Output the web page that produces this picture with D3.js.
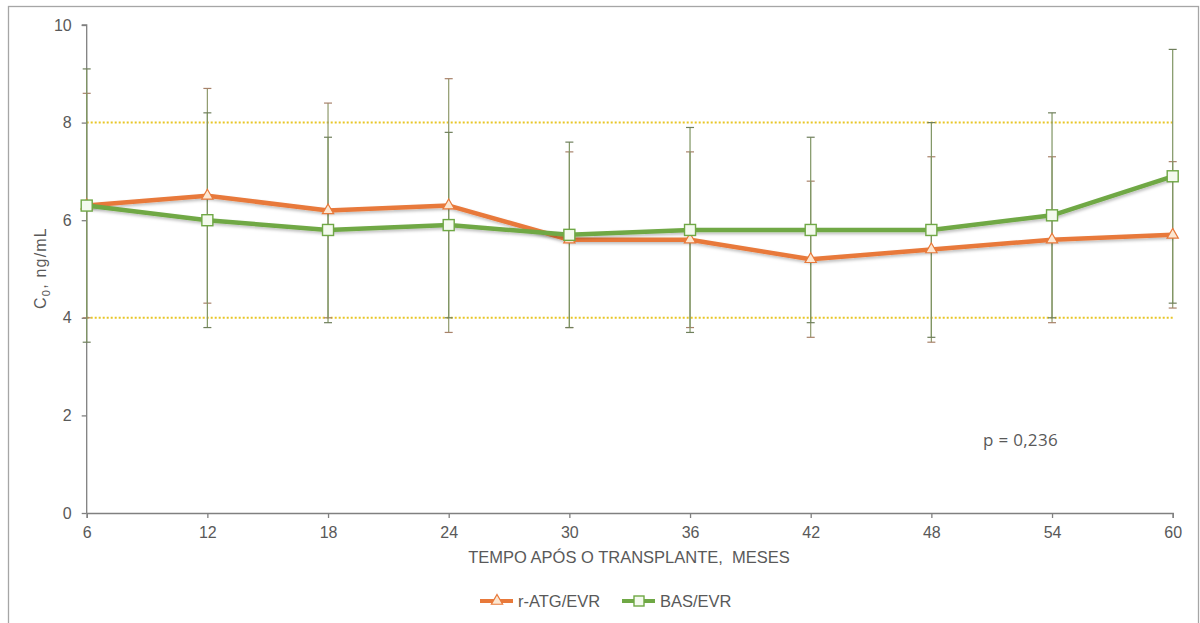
<!DOCTYPE html>
<html>
<head>
<meta charset="utf-8">
<script src="https://cdn.jsdelivr.net/npm/d3@7"></script>
<style>
  html, body { margin: 0; padding: 0; background: #fff; }
  svg { display: block; font-family: "Liberation Sans", Arial, sans-serif; }
</style>
</head>
<body>
<svg id="chart" width="1200" height="623"></svg>
<script>
// ---- data ----
const months = [6, 12, 18, 24, 30, 36, 42, 48, 54, 60];
const atgMean  = [6.3, 6.5, 6.2, 6.3, 5.6, 5.6, 5.2, 5.4, 5.6, 5.7];
const atgUpper = [8.6, 8.7, 8.4, 8.9, 7.4, 7.4, 6.8, 7.3, 7.3, 7.2];
const atgLower = [4.0, 4.3, 4.0, 3.7, 3.8, 3.8, 3.6, 3.5, 3.9, 4.2];
const basMean  = [6.3, 6.0, 5.8, 5.9, 5.7, 5.8, 5.8, 5.8, 6.1, 6.9];
const basUpper = [9.1, 8.2, 7.7, 7.8, 7.6, 7.9, 7.7, 8.0, 8.2, 9.5];
const basLower = [3.5, 3.8, 3.9, 4.0, 3.8, 3.7, 3.9, 3.6, 4.0, 4.3];
const yTicks = [0, 2, 4, 6, 8, 10];
const refLines = [4, 8];
const seriesNames = ["r-ATG/EVR", "BAS/EVR"];
const xTitle = "TEMPO APÓS O TRANSPLANTE,  MESES";
const pText = "p = 0,236";

// ---- layout ----
const svg = d3.select("#chart");
const x = d3.scaleLinear().domain([6, 60]).range([86.7, 1172.7]);
const y = d3.scaleLinear().domain([0, 10]).range([513, 25]);

const orange = "#E8793A", green = "#6FA845";
const axisCol = "#808080", textCol = "#595959";

// outer border
svg.append("rect").attr("x", 8.5).attr("y", 6.5).attr("width", 1190).attr("height", 640)
  .attr("fill", "none").attr("stroke", "#a6a6a6").attr("stroke-width", 1.3);

// shadow filter
const defs = svg.append("defs");
const f = defs.append("filter").attr("id", "sh").attr("x", "-5%").attr("y", "-50%").attr("width", "110%").attr("height", "200%");
f.append("feDropShadow").attr("dx", 1).attr("dy", 2).attr("stdDeviation", 1.5).attr("flood-color", "#000").attr("flood-opacity", 0.25);

// reference dotted lines
svg.selectAll(".ref").data(refLines).enter().append("line")
  .attr("x1", x(6)).attr("x2", x(60))
  .attr("y1", d => y(d)).attr("y2", d => y(d))
  .attr("stroke", "#E8C626").attr("stroke-width", 2).attr("stroke-dasharray", "2,2");

// axes
const yAxis = d3.axisLeft(y).tickValues(yTicks).tickSize(5).tickPadding(10).tickFormat(d3.format("d"));
const gy = svg.append("g").attr("transform", `translate(${x(6)},0)`).call(yAxis);
const xAxis = d3.axisBottom(x).tickValues(months).tickSize(5).tickPadding(9).tickFormat(d3.format("d"));
const gx = svg.append("g").attr("transform", `translate(0,${y(0)})`).call(xAxis);
[gx, gy].forEach(g => {
  g.select(".domain").attr("stroke", axisCol).attr("stroke-width", 1.3);
  g.selectAll(".tick line").attr("stroke", axisCol).attr("stroke-width", 1.3);
  g.selectAll(".tick text").attr("fill", textCol).attr("font-size", 16)
    .attr("font-family", "'Liberation Sans', Arial, sans-serif");
});
gy.select(".domain").attr("d", `M-5,${y(10)}H0V${y(0)}`);

// error bars
function errorBars(lower, upper, lineCol, capCol) {
  const g = svg.append("g");
  months.forEach((m, i) => {
    g.append("line").attr("x1", x(m)).attr("x2", x(m))
      .attr("y1", y(lower[i])).attr("y2", y(upper[i]))
      .attr("stroke", lineCol).attr("stroke-width", 1.2);
    [lower[i], upper[i]].forEach(v => {
      g.append("line").attr("x1", x(m) - 4).attr("x2", x(m) + 4)
        .attr("y1", y(v)).attr("y2", y(v))
        .attr("stroke", capCol).attr("stroke-width", 1.2);
    });
  });
}
errorBars(atgLower, atgUpper, "#8f9a6c", "#a8826a");
errorBars(basLower, basUpper, "#7f9563", "#6f7f5c");

// lines
const line = d3.line().x((d, i) => x(months[i])).y(d => y(d));
svg.append("path").datum(atgMean).attr("d", line).attr("fill", "none")
  .attr("stroke", orange).attr("stroke-width", 4.5).attr("stroke-linejoin", "round").attr("filter", "url(#sh)");
svg.append("path").datum(basMean).attr("d", line).attr("fill", "none")
  .attr("stroke", green).attr("stroke-width", 4.5).attr("stroke-linejoin", "round").attr("filter", "url(#sh)");

// markers
const tri = d3.symbol().type(d3.symbolTriangle).size(55);
svg.selectAll(".tri").data(atgMean).enter().append("path")
  .attr("d", tri).attr("transform", (d, i) => `translate(${x(months[i])},${y(d)})`)
  .attr("fill", "#FCE7D2").attr("stroke", orange).attr("stroke-width", 1.2);
svg.selectAll(".sq").data(basMean).enter().append("rect")
  .attr("x", (d, i) => x(months[i]) - 5.5).attr("y", d => y(d) - 5.5)
  .attr("width", 11).attr("height", 11)
  .attr("fill", "#F4FAEE").attr("stroke", green).attr("stroke-width", 1.4);

// y axis title
const yt = svg.append("text").attr("transform", `translate(46,268) rotate(-90)`)
  .attr("text-anchor", "middle").attr("fill", textCol).attr("font-size", 16)
  .attr("letter-spacing", 1.2);
yt.append("tspan").text("C");
yt.append("tspan").text("0").attr("font-size", 11).attr("dy", 4);
yt.append("tspan").text(", ng/mL").attr("dy", -4);

// x axis title
svg.append("text").attr("x", 629).attr("y", 563).attr("text-anchor", "middle")
  .style("white-space", "pre")
  .attr("fill", textCol).attr("font-size", 16.5).text(xTitle);

// p value
svg.append("text").attr("x", 983).attr("y", 446).attr("fill", textCol)
  .attr("font-size", 17).attr("letter-spacing", 0.3)
  .attr("font-family", "'Open Sans', 'Noto Sans', sans-serif").text(pText);

// legend
const legend = svg.append("g");
const legItems = [
  { name: seriesNames[0], col: orange, x0: 480, marker: "tri" },
  { name: seriesNames[1], col: green, x0: 622, marker: "sq" }
];
legItems.forEach(it => {
  const ly = 601;
  legend.append("line").attr("x1", it.x0).attr("x2", it.x0 + 33).attr("y1", ly).attr("y2", ly)
    .attr("stroke", it.col).attr("stroke-width", 4);
  if (it.marker === "tri") {
    legend.append("path").attr("d", tri).attr("transform", `translate(${it.x0 + 17},${ly})`)
      .attr("fill", "#FCE7D2").attr("stroke", it.col).attr("stroke-width", 1.2);
  } else {
    legend.append("rect").attr("x", it.x0 + 12).attr("y", ly - 5).attr("width", 10).attr("height", 10)
      .attr("fill", "#F4FAEE").attr("stroke", it.col).attr("stroke-width", 1.4);
  }
  legend.append("text").attr("x", it.x0 + 38).attr("y", ly + 6).attr("fill", textCol)
    .attr("font-size", 16.5).text(it.name);
});
</script>
</body>
</html>
